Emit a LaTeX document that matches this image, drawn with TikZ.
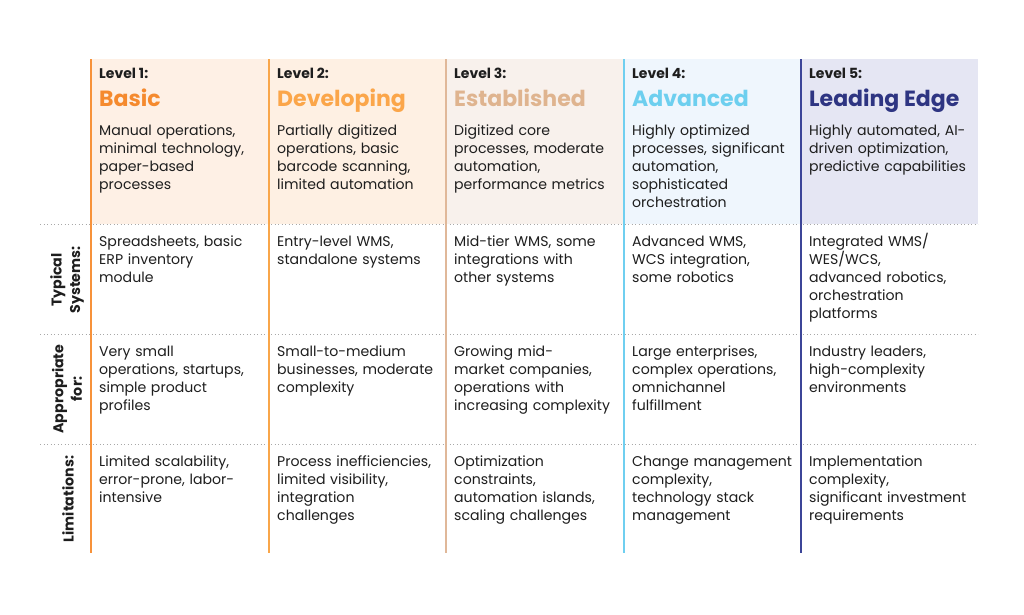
\documentclass[tikz,border=0pt]{standalone}
\usepackage{fontspec}
\setmainfont{Poppins}
\definecolor{bgA}{HTML}{FEF0E5}
\definecolor{bgB}{HTML}{FEF0E3}
\definecolor{bgC}{HTML}{F8F1EC}
\definecolor{bgD}{HTML}{EFF6FD}
\definecolor{bgE}{HTML}{E5E6F3}
\definecolor{lnA}{HTML}{F7923A}
\definecolor{lnB}{HTML}{F9A64A}
\definecolor{lnC}{HTML}{E0B899}
\definecolor{lnD}{HTML}{6FCFF0}
\definecolor{lnE}{HTML}{3C4598}
\definecolor{tA}{HTML}{F58A2E}
\definecolor{tB}{HTML}{FBA64A}
\definecolor{tC}{HTML}{DFB48F}
\definecolor{tD}{HTML}{6DCFEF}
\definecolor{tE}{HTML}{2E3582}
\definecolor{ink}{HTML}{1E1E1E}
\definecolor{dotc}{HTML}{A8A8A8}
\tikzset{
  cell/.style={anchor=base west, inner sep=0pt, text width=172pt, align=left,
    font=\fontsize{14.1}{18}\selectfont, text=ink},
  lvl/.style={anchor=base west, inner sep=0pt, font=\fontsize{14}{15}\selectfont\bfseries, text=ink},
  ttl/.style={anchor=base west, inner sep=0pt, font=\fontsize{22}{24}\selectfont\bfseries},
  rowlab/.style={rotate=90, inner sep=0pt, align=center, font=\fontsize{14.2}{18.5}\selectfont\bfseries, text=ink},
  sep/.style={dotc, line width=0.9pt, dash pattern=on 0.9pt off 2.6pt},
  vline/.style={line width=2pt}
}
\begin{document}
\begin{tikzpicture}[x=1pt,y=-1pt]
\useasboundingbox (0,0) rectangle (1024,614);
\fill[white] (0,0) rectangle (1024,614);
% header backgrounds
\fill[bgA] (91,59) rectangle (269,224);
\fill[bgB] (269,59) rectangle (446,224);
\fill[bgC] (446,59) rectangle (624,224);
\fill[bgD] (624,59) rectangle (801,224);
\fill[bgE] (801,59) rectangle (978,224);
% separators
\coordinate (s1a) at (40,224); \coordinate (s1b) at (978,224);
\coordinate (s2a) at (40,334); \coordinate (s2b) at (978,334);
\coordinate (s3a) at (40,444); \coordinate (s3b) at (978,444);
\draw[sep] (s1a) -- (s1b);
\draw[sep] (s2a) -- (s2b);
\draw[sep] (s3a) -- (s3b);
% vertical lines
\coordinate (v1t) at (91,59);  \coordinate (v1b) at (91,553);
\coordinate (v2t) at (269,59); \coordinate (v2b) at (269,553);
\coordinate (v3t) at (446,59); \coordinate (v3b) at (446,553);
\coordinate (v4t) at (624,59); \coordinate (v4b) at (624,553);
\coordinate (v5t) at (801,59); \coordinate (v5b) at (801,553);
\draw[vline, lnA] (v1t) -- (v1b);
\draw[vline, lnB] (v2t) -- (v2b);
\draw[vline, lnC] (v3t) -- (v3b);
\draw[vline, lnD] (v4t) -- (v4b);
\draw[vline, lnE] (v5t) -- (v5b);
% row labels
\node[rowlab] (rl1) at (67,280) {Typical\\Systems:};
\node[rowlab] (rl2) at (67,389) {Appropriate\\for:};
\node[rowlab] (rl3) at (68,499) {Limitations:};
% column 1
\node[lvl] (l1) at (99,78) {Level 1:};
\node[ttl, text=tA] (t1) at (99,106) {Basic};
\node[cell] (h1) at (99,135) {Manual operations,\\minimal technology,\\paper-based\\processes};
\node[cell] (a1) at (99,246) {Spreadsheets, basic\\ERP inventory\\module};
\node[cell] (b1) at (99,356) {Very small\\operations, startups,\\simple product\\profiles};
\node[cell] (c1) at (99,466) {Limited scalability,\\error-prone, labor-\\intensive};
% column 2
\node[lvl] (l2) at (277,78) {Level 2:};
\node[ttl, text=tB] (t2) at (277,106) {Developing};
\node[cell] (h2) at (277,135) {Partially digitized\\operations, basic\\barcode scanning,\\limited automation};
\node[cell] (a2) at (277,246) {Entry-level WMS,\\standalone systems};
\node[cell] (b2) at (277,356) {Small-to-medium\\businesses, moderate\\complexity};
\node[cell] (c2) at (277,466) {Process inefficiencies,\\limited visibility,\\integration\\challenges};
% column 3
\node[lvl] (l3) at (454,78) {Level 3:};
\node[ttl, text=tC] (t3) at (454,106) {Established};
\node[cell] (h3) at (454,135) {Digitized core\\processes, moderate\\automation,\\performance metrics};
\node[cell] (a3) at (454,246) {Mid-tier WMS, some\\integrations with\\other systems};
\node[cell] (b3) at (454,356) {Growing mid-\\market companies,\\operations with\\increasing complexity};
\node[cell] (c3) at (454,466) {Optimization\\constraints,\\automation islands,\\scaling challenges};
% column 4
\node[lvl] (l4) at (632,78) {Level 4:};
\node[ttl, text=tD] (t4) at (632,106) {Advanced};
\node[cell] (h4) at (632,135) {Highly optimized\\processes, significant\\automation,\\sophisticated\\orchestration};
\node[cell] (a4) at (632,246) {Advanced WMS,\\WCS integration,\\some robotics};
\node[cell] (b4) at (632,356) {Large enterprises,\\complex operations,\\omnichannel\\fulfillment};
\node[cell] (c4) at (632,466) {Change management\\complexity,\\technology stack\\management};
% column 5
\node[lvl] (l5) at (809,78) {Level 5:};
\node[ttl, text=tE] (t5) at (809,106) {Leading Edge};
\node[cell] (h5) at (809,135) {Highly automated, AI-\\driven optimization,\\predictive capabilities};
\node[cell] (a5) at (809,246) {Integrated WMS/\\WES/WCS,\\advanced robotics,\\orchestration\\platforms};
\node[cell] (b5) at (809,356) {Industry leaders,\\high-complexity\\environments};
\node[cell] (c5) at (809,466) {Implementation\\complexity,\\significant investment\\requirements};
\end{tikzpicture}
\end{document}
